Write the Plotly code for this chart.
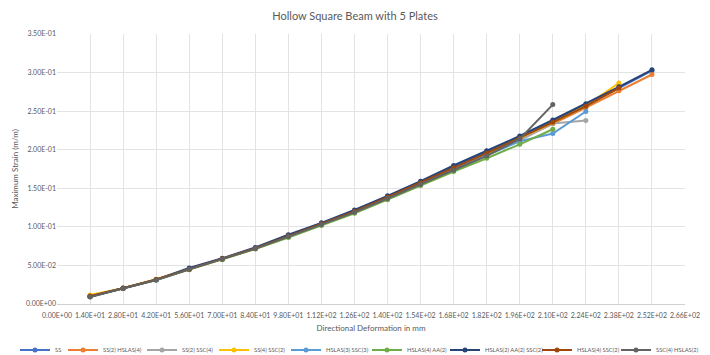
import plotly.graph_objects as go

# Directional deformation (mm) sampled every 14 mm
deformation = [14, 28, 42, 56, 70, 84, 98, 112, 126, 140, 154, 168, 182, 196, 210, 224, 238, 252]

# Maximum strain (m/m) for each plate layup
ss = [0.0098, 0.0205, 0.0312, 0.0458, 0.0587, 0.0728, 0.0888, 0.1043, 0.1205, 0.1390, 0.1580, 0.1778, 0.1968, 0.2165, 0.2370, 0.2580, 0.2800, 0.3025]
ss2_hslas4 = [0.0100, 0.0203, 0.0318, 0.0448, 0.0580, 0.0718, 0.0872, 0.1030, 0.1190, 0.1372, 0.1555, 0.1745, 0.1935, 0.2130, 0.2335, 0.2545, 0.2765, 0.2975]
ss2_ssc4 = [0.0098, 0.0204, 0.0312, 0.0452, 0.0582, 0.0720, 0.0878, 0.1035, 0.1195, 0.1378, 0.1562, 0.1752, 0.1935, 0.2120, 0.2340, 0.2380]
ss4_ssc2 = [0.0118, 0.0206, 0.0320, 0.0450, 0.0582, 0.0722, 0.0876, 0.1036, 0.1196, 0.1380, 0.1565, 0.1758, 0.1948, 0.2148, 0.2352, 0.2570, 0.2865]
hslas3_ssc3 = [0.0098, 0.0204, 0.0314, 0.0454, 0.0584, 0.0722, 0.0878, 0.1034, 0.1194, 0.1374, 0.1556, 0.1744, 0.1925, 0.2110, 0.2210, 0.2495]
hslas4_aa2 = [0.0098, 0.0202, 0.0310, 0.0445, 0.0575, 0.0712, 0.0862, 0.1018, 0.1175, 0.1352, 0.1535, 0.1718, 0.1890, 0.2070, 0.2265]
hslas2_aa2_ssc2 = [0.0095, 0.0206, 0.0316, 0.0466, 0.0592, 0.0732, 0.0898, 0.1052, 0.1218, 0.1402, 0.1592, 0.1795, 0.1985, 0.2178, 0.2385, 0.2595, 0.2815, 0.3035]
hslas4_ssc2 = [0.0105, 0.0205, 0.0318, 0.0452, 0.0585, 0.0722, 0.0880, 0.1040, 0.1200, 0.1385, 0.1570, 0.1765, 0.1955, 0.2150, 0.2355, 0.2565, 0.2800]
ssc4_hslas2 = [0.0090, 0.0200, 0.0310, 0.0450, 0.0580, 0.0718, 0.0874, 0.1030, 0.1188, 0.1368, 0.1550, 0.1735, 0.1920, 0.2140, 0.2585]

series_names = ["SS", "SS(2) HSLAS(4)", "SS(2) SSC(4)", "SS(4) SSC(2)", "HSLAS(3) SSC(3)",
                "HSLAS(4) AA(2)", "HSLAS(2) AA(2) SSC(2)", "HSLAS(4) SSC(2)", "SSC(4) HSLAS(2)"]
series_values = [ss, ss2_hslas4, ss2_ssc4, ss4_ssc2, hslas3_ssc3,
                 hslas4_aa2, hslas2_aa2_ssc2, hslas4_ssc2, ssc4_hslas2]
series_colors = ["#4472C4", "#ED7D31", "#A5A5A5", "#FFC000", "#5B9BD5",
                 "#70AD47", "#264478", "#9E480E", "#636363"]

# Axis ticks
x_ticks = [0, 14, 28, 42, 56, 70, 84, 98, 112, 126, 140, 154, 168, 182, 196, 210, 224, 238, 252, 266]
y_ticks = [0.0, 0.05, 0.10, 0.15, 0.20, 0.25, 0.30, 0.35]
x_tick_labels = [f"{v:.2E}" for v in x_ticks]
y_tick_labels = [f"{v:.2E}" for v in y_ticks]

W, H = 710, 355
FONT = "Lato, 'Open Sans', sans-serif"
GREY_TEXT = "#595959"
GRID = "#E3E3E3"

# Left edge (px) of each entry of the single legend row under the chart
legend_entry_x = [15, 63, 142, 214, 286, 367, 445, 537, 616]
legend_row_y = 350

fig = go.Figure()
legend_layouts = {}
for i, (name, vals, color) in enumerate(zip(series_names, series_values, series_colors)):
    legend_id = "legend" if i == 0 else f"legend{i + 1}"
    fig.add_trace(go.Scatter(
        x=deformation[:len(vals)], y=vals, name=name, mode="lines+markers",
        line=dict(color=color, width=2),
        marker=dict(color=color, size=5, symbol="circle"),
        legend=legend_id,
    ))
    legend_layouts[legend_id] = dict(
        orientation="h", xref="container", yref="container",
        x=legend_entry_x[i] / W, xanchor="left",
        y=1 - legend_row_y / H, yanchor="middle",
        font=dict(family=FONT, size=5.8, color=GREY_TEXT), itemwidth=30,
        bgcolor="rgba(0,0,0,0)", borderwidth=0, tracegroupgap=0,
    )

fig.update_layout(
    width=W, height=H,
    margin=dict(l=57, r=25, t=34, b=51, autoexpand=False),
    paper_bgcolor="white", plot_bgcolor="white",
    font=dict(family=FONT, color=GREY_TEXT, size=8),
    title=dict(text="Hollow Square Beam with 5 Plates", x=0.5, xanchor="center",
               y=1 - 16 / H, yanchor="middle", yref="container",
               font=dict(family=FONT, size=11, color=GREY_TEXT)),
    xaxis=dict(range=[0, 266], tickvals=x_ticks, ticktext=x_tick_labels,
               showgrid=True, gridcolor=GRID, gridwidth=1, zeroline=False,
               showline=True, linecolor="#D0D0D0", ticks="", ticklabelstandoff=5,
               tickfont=dict(size=7, color=GREY_TEXT),
               title=dict(text="Directional Deformation in mm", standoff=6,
                          font=dict(size=8, color=GREY_TEXT))),
    yaxis=dict(range=[0, 0.35], tickvals=y_ticks, ticktext=y_tick_labels,
               showgrid=True, gridcolor=GRID, gridwidth=1, zeroline=False,
               showline=False, ticks="",
               tickfont=dict(size=7, color=GREY_TEXT),
               title=dict(text="Maximum Strain (m/m)", standoff=6,
                          font=dict(size=8, color=GREY_TEXT))),
    showlegend=True,
    **legend_layouts,
)

fig.write_html("out.html")
